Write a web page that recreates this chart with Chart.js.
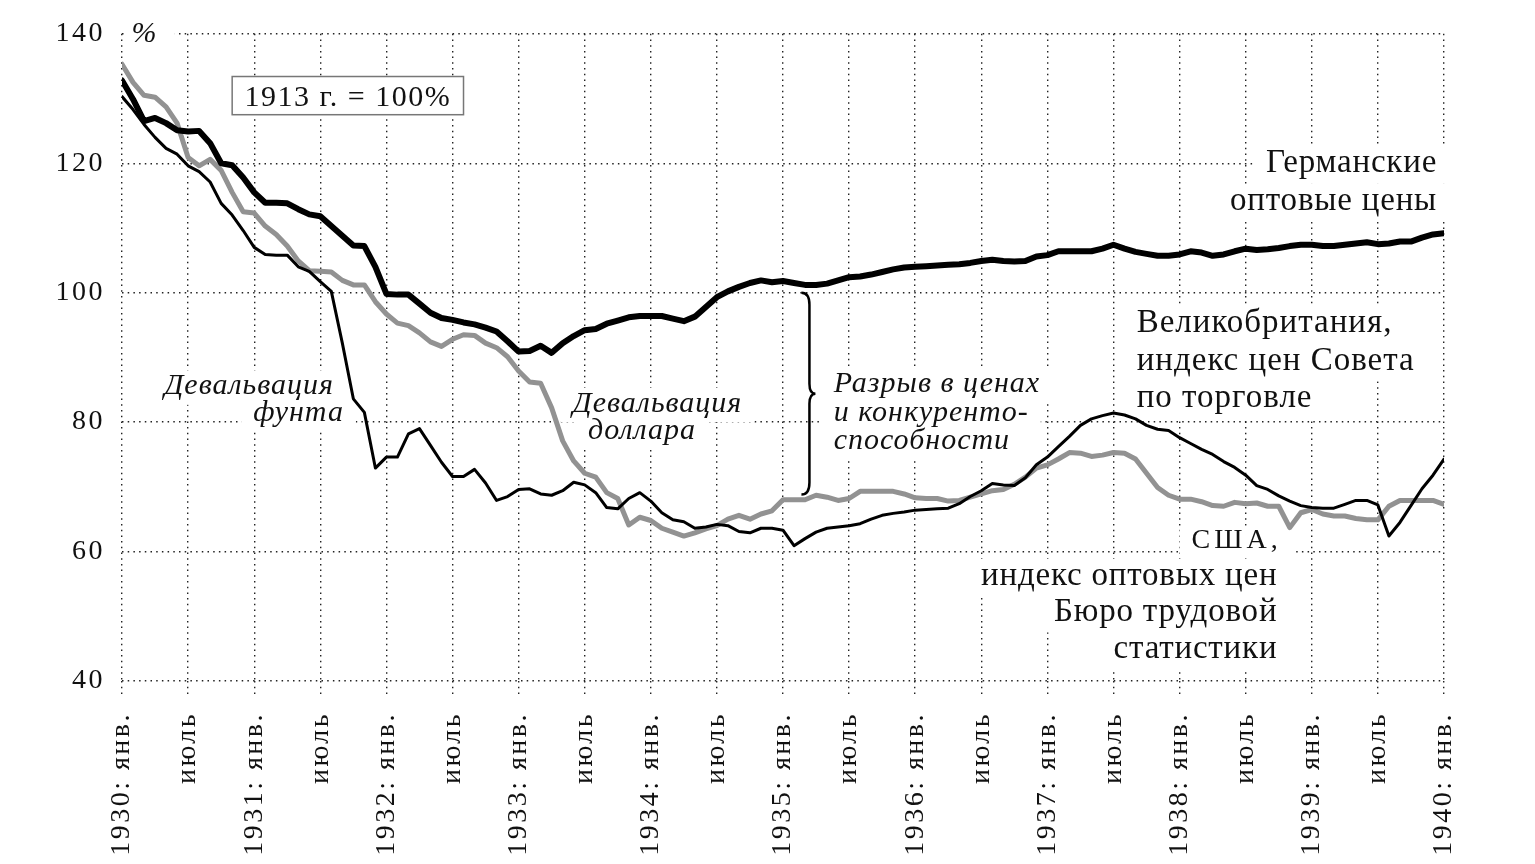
<!DOCTYPE html>
<html>
<head>
<meta charset="utf-8">
<script src="https://cdn.jsdelivr.net/npm/chart.js@4.4.1/dist/chart.umd.min.js"></script>
<style>
html, body { margin: 0; padding: 0; background: #fff; }
canvas { display: block; }
</style>
</head>
<body>
<canvas id="priceChart" width="1535" height="864"></canvas>
<script>
// monthly values, 1930 Jan .. 1940 Jan, 1913 = 100
const germany = [
    132.8, 129.9, 126.5, 127.0, 126.2, 125.1, 124.9, 125.0, 123.1, 120.0,
    119.7, 117.8, 115.5, 113.9, 113.9, 113.8, 112.9, 112.1, 111.8, 110.3,
    108.8, 107.3, 107.2, 104.0, 99.8, 99.7, 99.7, 98.3, 96.9, 96.1,
    95.8, 95.4, 95.1, 94.6, 94.0, 92.5, 90.9, 91.0, 91.8, 90.7,
    92.2, 93.3, 94.2, 94.4, 95.2, 95.7, 96.2, 96.4, 96.4, 96.4,
    96.0, 95.6, 96.3, 97.8, 99.3, 100.2, 100.9, 101.5, 101.9, 101.6,
    101.8, 101.5, 101.2, 101.2, 101.4, 101.9, 102.4, 102.5, 102.8, 103.2,
    103.6, 103.9, 104.0, 104.1, 104.2, 104.3, 104.4, 104.6, 104.9, 105.1,
    104.9, 104.8, 104.9, 105.6, 105.8, 106.4, 106.4, 106.4, 106.4, 106.8,
    107.4, 106.8, 106.3, 106.0, 105.7, 105.7, 105.9, 106.4, 106.2, 105.7,
    105.9, 106.4, 106.8, 106.6, 106.7, 106.9, 107.2, 107.4, 107.4, 107.2,
    107.2, 107.4, 107.6, 107.8, 107.5, 107.6, 107.9, 107.9, 108.5, 109.0,
    109.2
];
const britain = [
    130.3, 128.3, 126.0, 124.0, 122.3, 121.4, 119.6, 118.7, 117.1, 113.8,
    112.0, 109.6, 107.0, 105.9, 105.8, 105.8, 104.0, 103.3, 101.7, 100.2,
    92.2, 83.6, 81.5, 72.9, 74.6, 74.6, 78.2, 79.0, 76.4, 73.8,
    71.6, 71.6, 72.7, 70.6, 67.9, 68.5, 69.6, 69.7, 68.9, 68.7,
    69.4, 70.7, 70.3, 69.1, 66.8, 66.6, 68.2, 69.1, 67.8, 66.0,
    64.9, 64.6, 63.6, 63.8, 64.2, 64.0, 63.1, 62.9, 63.6, 63.6,
    63.3, 60.9, 62.0, 63.0, 63.6, 63.8, 64.0, 64.3, 65.0, 65.6,
    65.9, 66.1, 66.4, 66.5, 66.6, 66.7, 67.4, 68.5, 69.4, 70.5,
    70.3, 70.2, 71.4, 73.4, 74.6, 76.2, 77.8, 79.5, 80.5, 81.0,
    81.4, 81.1, 80.5, 79.5, 78.9, 78.7, 77.6, 76.7, 75.8, 75.0,
    73.9, 73.0, 71.8, 70.2, 69.6, 68.6, 67.8, 67.1, 66.8, 66.7,
    66.7, 67.3, 67.9, 67.9, 67.2, 62.4, 64.5, 67.1, 69.7, 71.8,
    74.3
];
const usa = [
    135.3, 132.5, 130.5, 130.2, 128.7, 126.2, 120.9, 119.6, 120.6, 118.9,
    115.5, 112.5, 112.3, 110.3, 109.0, 107.2, 104.9, 103.4, 103.3, 103.2,
    101.9, 101.2, 101.2, 98.6, 96.7, 95.3, 94.9, 93.8, 92.4, 91.7,
    92.8, 93.5, 93.4, 92.2, 91.5, 90.1, 87.9, 86.2, 86.0, 82.2,
    77.1, 74.0, 72.1, 71.5, 69.1, 68.2, 64.1, 65.3, 64.8, 63.6,
    63.0, 62.4, 62.9, 63.5, 64.0, 65.0, 65.6, 65.0, 65.8, 66.3,
    68.0, 68.0, 68.0, 68.7, 68.4, 67.9, 68.2, 69.3, 69.3, 69.3,
    69.3, 68.9, 68.3, 68.2, 68.2, 67.8, 67.9, 68.4, 68.9, 69.4,
    69.6, 70.4, 71.5, 72.9, 73.4, 74.3, 75.3, 75.2, 74.7, 74.9,
    75.3, 75.2, 74.3, 72.1, 69.9, 68.7, 68.1, 68.1, 67.7, 67.1,
    67.0, 67.6, 67.4, 67.5, 67.0, 67.0, 63.7, 66.0, 66.5, 65.8,
    65.5, 65.5, 65.1, 64.9, 64.9, 67.0, 67.9, 67.9, 67.9, 67.9,
    67.3
];

const xTickLabels = [
    '1930: янв.', 'июль', '1931: янв.', 'июль', '1932: янв.', 'июль',
    '1933: янв.', 'июль', '1934: янв.', 'июль', '1935: янв.', 'июль',
    '1936: янв.', 'июль', '1937: янв.', 'июль', '1938: янв.', 'июль',
    '1939: янв.', 'июль', '1940: янв.'
];
const yTickLabels = ['40', '60', '80', '100', '120', '140'];

const FAMILY = '"Liberation Serif", serif';
const INK = '#111';

// text notes, anchored in data units (month index, percent)
const notes = [
    {text: '%', x: 2.0, y: 138.8, align: 'center', size: 30, italic: true, spacing: 0, mask: [0.4, 4.8]},
    {text: 'Германские', x: 119.3, y: 118.6, align: 'right', size: 33, spacing: 0.8},
    {text: 'оптовые цены', x: 119.3, y: 112.7, align: 'right', size: 33, spacing: 0.8},
    {text: 'Великобритания,', x: 92.1, y: 93.85, align: 'left', size: 33, spacing: 1},
    {text: 'индекс цен Совета', x: 92.1, y: 88.1, align: 'left', size: 33, spacing: 1},
    {text: 'по торговле', x: 92.1, y: 82.4, align: 'left', size: 33, spacing: 1},
    {text: 'США,', x: 104.9, y: 60.5, align: 'right', size: 28, spacing: 4},
    {text: 'индекс оптовых цен', x: 104.8, y: 54.8, align: 'right', size: 33, spacing: 0.8},
    {text: 'Бюро трудовой', x: 104.8, y: 49.3, align: 'right', size: 33, spacing: 0.8},
    {text: 'статистики', x: 104.8, y: 43.6, align: 'right', size: 33, spacing: 0.8},
    {text: 'Девальвация', x: 19.15, y: 84.3, align: 'right', size: 30, italic: true, spacing: 1},
    {text: 'фунта', x: 20.05, y: 80.1, align: 'right', size: 30, italic: true, spacing: 1},
    {text: 'Девальвация', x: 40.9, y: 81.6, align: 'left', size: 30, italic: true, spacing: 1},
    {text: 'доллара', x: 42.3, y: 77.4, align: 'left', size: 30, italic: true, spacing: 1},
    {text: 'Разрыв в ценах', x: 64.6, y: 84.6, align: 'left', size: 30, italic: true, spacing: 1},
    {text: 'и конкуренто-', x: 64.6, y: 80.1, align: 'left', size: 30, italic: true, spacing: 1},
    {text: 'способности', x: 64.6, y: 75.9, align: 'left', size: 30, italic: true, spacing: 1}
];
const baseNote = {text: '1913 г. = 100%', x0: 10.0, x1: 31.0, y0: 133.4, y1: 127.5, baseline: 128.9};
const brace = {month: 62.4, top: 100.0, bottom: 68.8};

const toPoints = arr => arr.map((v, i) => ({x: i, y: v}));

const notesPlugin = {
    id: 'notes',
    beforeDraw(chart) {
        chart.ctx.letterSpacing = '2.5px';
    },
    beforeDatasetsDraw(chart) {
        const ctx = chart.ctx;
        const xs = chart.scales.x, ys = chart.scales.y;
        ctx.save();

        const boxes = notes.map(n => {
            ctx.font = (n.italic ? 'italic ' : '') + n.size + 'px ' + FAMILY;
            ctx.letterSpacing = n.spacing + 'px';
            const w = ctx.measureText(n.text).width;
            let px = xs.getPixelForValue(n.x);
            const py = ys.getPixelForValue(n.y);
            if (n.align === 'right') px += n.spacing;
            let left = n.align === 'right' ? px - w : n.align === 'center' ? px - w / 2 : px;
            return {n, px, py, left, w};
        });

        ctx.fillStyle = '#fff';
        boxes.forEach(b => {
            const pad = 12;
            if (b.n.mask) {
                ctx.fillRect(xs.getPixelForValue(b.n.mask[0]), 0, xs.getPixelForValue(b.n.mask[1]) - xs.getPixelForValue(b.n.mask[0]), b.py + 6);
                return;
            }
            ctx.fillRect(b.left - pad, b.py - b.n.size * 0.8, b.w + pad * 2, b.n.size * 1.15);
        });

        ctx.fillStyle = INK;
        ctx.textBaseline = 'alphabetic';
        boxes.forEach(b => {
            ctx.font = (b.n.italic ? 'italic ' : '') + b.n.size + 'px ' + FAMILY;
            ctx.letterSpacing = b.n.spacing + 'px';
            ctx.textAlign = 'left';
            ctx.fillText(b.n.text, b.left, b.py);
        });

        // base-year box
        const bx0 = xs.getPixelForValue(baseNote.x0), bx1 = xs.getPixelForValue(baseNote.x1);
        const by0 = ys.getPixelForValue(baseNote.y0), by1 = ys.getPixelForValue(baseNote.y1);
        ctx.fillStyle = '#fff';
        ctx.fillRect(bx0, by0, bx1 - bx0, by1 - by0);
        ctx.strokeStyle = '#777';
        ctx.lineWidth = 1.5;
        ctx.strokeRect(bx0, by0, bx1 - bx0, by1 - by0);
        ctx.fillStyle = INK;
        ctx.font = '30px ' + FAMILY;
        ctx.letterSpacing = '1.5px';
        ctx.textAlign = 'center';
        ctx.fillText(baseNote.text, (bx0 + bx1) / 2, ys.getPixelForValue(baseNote.baseline));

        // curly brace between Germany and USA
        const cx = xs.getPixelForValue(brace.month);
        const top = ys.getPixelForValue(brace.top);
        const bot = ys.getPixelForValue(brace.bottom);
        const mid = (top + bot) / 2;
        ctx.beginPath();
        ctx.moveTo(cx - 8, top);
        ctx.quadraticCurveTo(cx, top, cx, top + 12);
        ctx.lineTo(cx, mid - 10);
        ctx.quadraticCurveTo(cx, mid, cx + 6, mid);
        ctx.quadraticCurveTo(cx, mid, cx, mid + 10);
        ctx.lineTo(cx, bot - 12);
        ctx.quadraticCurveTo(cx, bot, cx - 8, bot);
        ctx.strokeStyle = '#000';
        ctx.lineWidth = 2.5;
        ctx.stroke();

        ctx.restore();
    }
};

const dots = [1.5, 4.2];

function drawChart() {
    new Chart(document.getElementById('priceChart').getContext('2d'), {
        type: 'line',
        data: {
            datasets: [{
                label: 'Германские оптовые цены',
                data: toPoints(germany),
                borderColor: '#000',
                borderWidth: 6
            }, {
                label: 'Великобритания',
                data: toPoints(britain),
                borderColor: '#000',
                borderWidth: 3
            }, {
                label: 'США',
                data: toPoints(usa),
                borderColor: '#929292',
                borderWidth: 5
            }]
        },
        options: {
            responsive: false,
            animation: false,
            devicePixelRatio: 1,
            layout: {padding: {top: 18, right: 91, left: 0, bottom: 0}},
            elements: {
                point: {radius: 0},
                line: {tension: 0, borderJoinStyle: 'round', borderCapStyle: 'round'}
            },
            plugins: {legend: {display: false}, tooltip: {enabled: false}},
            scales: {
                x: {
                    type: 'linear',
                    min: 0,
                    max: 120,
                    afterFit: s => { s.height = 183; },
                    ticks: {
                        stepSize: 6,
                        autoSkip: false,
                        maxRotation: 90,
                        minRotation: 90,
                        padding: 16,
                        color: INK,
                        font: {family: FAMILY, size: 28},
                        callback: v => xTickLabels[Math.round(v / 6)]
                    },
                    grid: {color: '#222', lineWidth: 1.4, tickLength: 15, tickColor: '#222', tickWidth: 1.4, tickBorderDash: dots},
                    border: {display: false, dash: dots}
                },
                y: {
                    min: 40,
                    max: 140,
                    afterFit: s => { s.width = 122; },
                    ticks: {
                        stepSize: 20,
                        padding: 17,
                        color: INK,
                        font: {family: FAMILY, size: 28},
                        callback: v => yTickLabels[Math.round((v - 40) / 20)]
                    },
                    grid: {color: '#222', lineWidth: 1.4, drawTicks: false},
                    border: {display: false, dash: dots}
                }
            }
        },
        plugins: [notesPlugin]
    });
}

Promise.all([
    document.fonts.load('28px "Liberation Serif"'),
    document.fonts.load('italic 30px "Liberation Serif"')
]).then(drawChart, drawChart);
</script>
</body>
</html>
